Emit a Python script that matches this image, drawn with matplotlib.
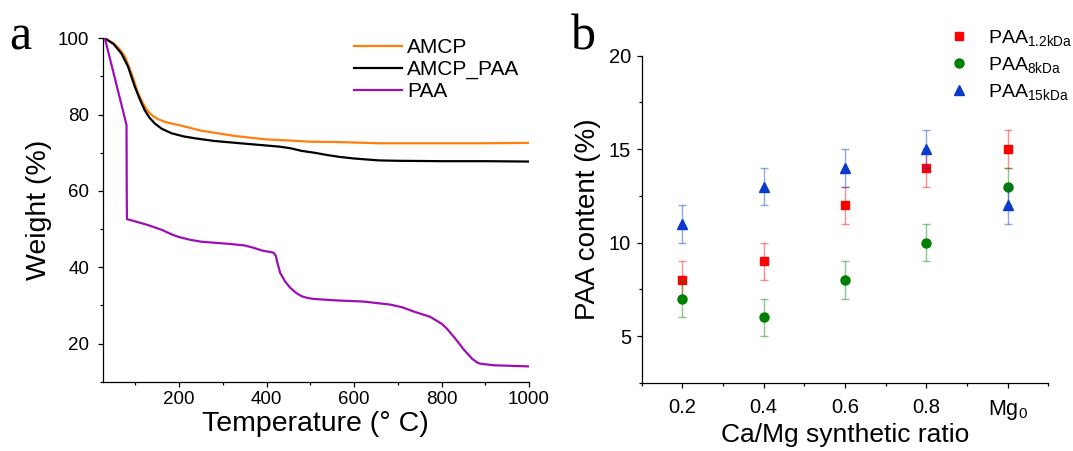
import matplotlib
matplotlib.use('Agg')
import matplotlib.pyplot as plt
from matplotlib.ticker import MultipleLocator, FixedLocator

plt.rcParams['font.family'] = ['Liberation Sans', 'DejaVu Sans']
plt.rcParams['mathtext.fontset'] = 'custom'
plt.rcParams['mathtext.rm'] = 'Liberation Sans'
plt.rcParams['mathtext.default'] = 'regular'

# panel a: TGA curves
amcp_t = [25, 30, 50, 65, 76, 91, 106, 118, 129, 140, 152, 170, 198, 250, 328,
          400, 454, 500, 568, 657, 800, 900, 1000]
amcp_w = [100, 100, 98.7, 97.0, 95.2, 90.8, 85.6, 82.8, 80.8, 79.6, 78.8, 78.0,
          77.3, 75.8, 74.4, 73.5, 73.2, 72.9, 72.8, 72.5, 72.5, 72.5, 72.6]

amcp_paa_t = [25, 30, 50, 68, 83, 98.5, 110, 121, 132, 144, 160, 183, 210, 236,
              280, 339, 400, 430, 454, 480, 510, 539, 568, 600, 657, 700, 800,
              900, 1000]
amcp_paa_w = [100, 100, 98.5, 96.0, 92.6, 87.3, 84.0, 81.2, 79.2, 77.7, 76.3,
              75.1, 74.3, 73.8, 73.1, 72.5, 71.9, 71.6, 71.2, 70.5, 70.0, 69.4,
              68.9, 68.5, 68.0, 67.9, 67.8, 67.8, 67.7]

paa_t = [25, 30, 79.5, 80.0, 80.5, 100, 130, 160, 185, 200, 225, 250, 316, 350,
         370, 392, 408, 416, 421, 425, 431, 442, 454, 467, 480, 495, 507, 560,
         622, 683, 710, 736, 774, 800, 813, 830, 851, 870, 882, 889, 920, 1000]
paa_w = [100, 100, 77.3, 60.0, 52.6, 52.0, 51.0, 49.8, 48.5, 47.9, 47.2, 46.7,
         46.1, 45.7, 45.1, 44.3, 44.0, 43.8, 43.0, 41.0, 38.5, 36.3, 34.6,
         33.3, 32.4, 31.9, 31.7, 31.3, 31.0, 30.2, 29.5, 28.4, 27.0, 25.2, 23.8,
         21.5, 18.4, 16.0, 15.0, 14.7, 14.3, 14.0]

# panel b: PAA content
ratio = [0.2, 0.4, 0.6, 0.8, 1.0]
ratio_labels = ['0.2', '0.4', '0.6', '0.8', 'Mg$_0$']
paa_1k2 = [8, 9, 12, 14, 15]
paa_8k = [7, 6, 8, 10, 13]
paa_15k = [11, 13, 14, 15, 12]
err = [1, 1, 1, 1, 1]


def style_axes(ax, size):
    for s in ['top', 'right']:
        ax.spines[s].set_visible(False)
    for s in ['left', 'bottom']:
        ax.spines[s].set_linewidth(0.9)
    ax.tick_params(which='major', direction='out', length=3.6, width=0.9,
                   labelsize=size)
    ax.tick_params(which='minor', direction='out', length=2.2, width=0.9)


fig = plt.figure(figsize=(10.73, 4.51), dpi=100)

ax1 = fig.add_axes([0.0957, 0.1537, 0.3973, 0.7613])
ax1.plot(amcp_t, amcp_w, color='#ff7f0e', lw=1.6, label='AMCP')
ax1.plot(amcp_paa_t, amcp_paa_w, color='black', lw=1.6, label='AMCP_PAA')
ax1.plot(paa_t, paa_w, color='#9b0fb5', lw=1.6, label='PAA')
ax1.set_xlim(25, 1000)
ax1.set_ylim(10, 100)
ax1.xaxis.set_major_locator(FixedLocator([200, 400, 600, 800, 1000]))
ax1.xaxis.set_minor_locator(MultipleLocator(100))
ax1.yaxis.set_major_locator(FixedLocator([20, 40, 60, 80, 100]))
ax1.yaxis.set_minor_locator(MultipleLocator(10))
style_axes(ax1, 13.5)
ax1.tick_params(axis='x', pad=3)
ax1.tick_params(axis='y', pad=6)
ax1.set_xlabel('Temperature (° C)', fontsize=20.5, labelpad=2)
ax1.set_ylabel('Weight (%)', fontsize=20.5, labelpad=4)
ax1.legend(loc='upper left', bbox_to_anchor=(0.33, 0.916),
           bbox_transform=fig.transFigure, frameon=False, fontsize=15,
           handlelength=2.3, handletextpad=0.25, labelspacing=0.15,
           borderpad=0, borderaxespad=0)

ax2 = fig.add_axes([0.598, 0.151, 0.379, 0.7255])
series = [
    (paa_1k2, '#ff0000', 's', 5.5, 'PAA$_{1.2kDa}$'),
    (paa_8k, '#008000', 'o', 6.5, 'PAA$_{8kDa}$'),
    (paa_15k, '#0a3acc', '^', 7.5, 'PAA$_{15kDa}$'),
]
for vals, c, m, ms, lab in series:
    ax2.errorbar(ratio, vals, yerr=err, fmt='none', ecolor=c, alpha=0.45,
                 elinewidth=1.0, capsize=3, capthick=1.0)
    ax2.plot(ratio, vals, linestyle='none', marker=m, color=c, ms=ms,
             label=lab)
ax2.set_xlim(0.1, 1.1)
ax2.set_ylim(2.5, 20)
ax2.xaxis.set_major_locator(FixedLocator(ratio))
ax2.set_xticklabels(ratio_labels)
ax2.xaxis.set_minor_locator(MultipleLocator(0.1))
ax2.yaxis.set_major_locator(FixedLocator([5, 10, 15, 20]))
ax2.yaxis.set_minor_locator(MultipleLocator(2.5))
style_axes(ax2, 14.5)
ax2.get_xticklabels()[-1].set_fontsize(15.5)
ax2.tick_params(axis='x', pad=7)
ax2.tick_params(axis='y', pad=4)
ax2.set_xlabel('Ca/Mg synthetic ratio', fontsize=19, labelpad=1)
ax2.set_ylabel('PAA content (%)', fontsize=20, labelpad=6)
ax2.legend(loc='upper left', bbox_to_anchor=(0.885, 0.938),
           bbox_transform=fig.transFigure, frameon=False, fontsize=14,
           handlelength=1.0, handletextpad=1.0, labelspacing=0.35,
           borderpad=0, borderaxespad=0)

fig.text(0.009, 0.89, 'a', family=['Liberation Serif'], fontsize=36)
fig.text(0.532, 0.89, 'b', family=['Liberation Serif'], fontsize=36)

fig.savefig('out.png', dpi=100)
